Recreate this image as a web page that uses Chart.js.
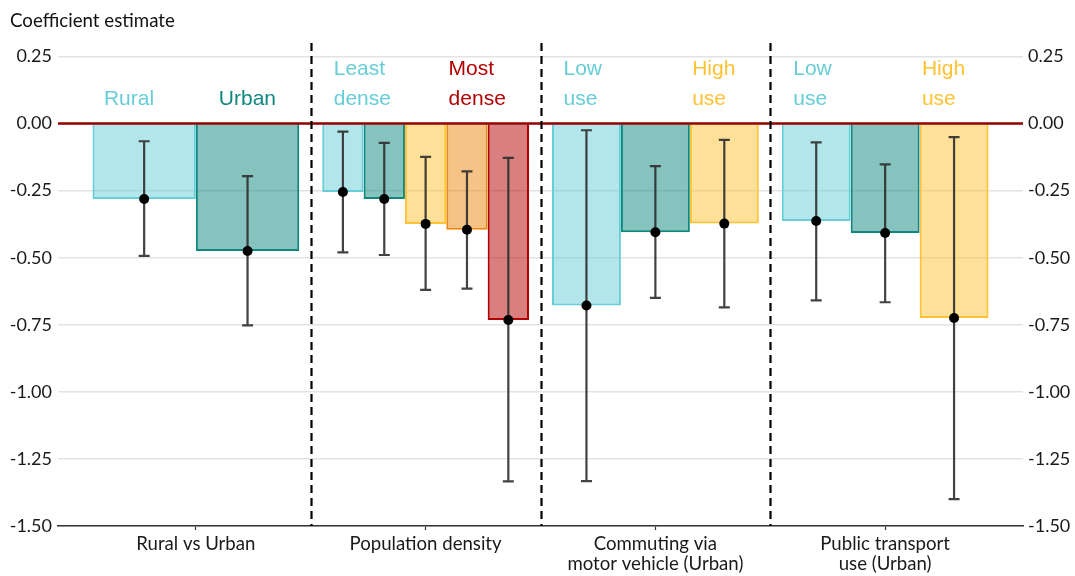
<!DOCTYPE html>
<html>
<head>
<meta charset="utf-8">
<title>Coefficient estimates</title>
<script src="https://cdn.jsdelivr.net/npm/chart.js@4/dist/chart.umd.min.js"></script>
<style>
  html, body { margin: 0; padding: 0; background: #ffffff; }
  #wrap { width: 1075px; height: 576px; }
</style>
</head>
<body>
<div id="wrap"><canvas id="chart" width="1075" height="576"></canvas></div>
<script>
// Comparison groups along the x axis
const groupLabels = ['Rural vs Urban', 'Population density', 'Commuting via\nmotor vehicle (Urban)', 'Public transport\nuse (Urban)'];

// Point estimates and interval bounds for each group (levels left to right)
const ruralUrbanEst  = [-0.281, -0.475];
const ruralUrbanLow  = [-0.493, -0.752];
const ruralUrbanHigh = [-0.066, -0.196];

const densityEst  = [-0.255, -0.281, -0.374, -0.396, -0.732];
const densityLow  = [-0.480, -0.490, -0.620, -0.615, -1.334];
const densityHigh = [-0.030, -0.072, -0.124, -0.178, -0.128];

const commuteEst  = [-0.678, -0.405, -0.373];
const commuteLow  = [-1.333, -0.650, -0.685];
const commuteHigh = [-0.025, -0.159, -0.061];

const transitEst  = [-0.363, -0.408, -0.725];
const transitLow  = [-0.659, -0.666, -1.400];
const transitHigh = [-0.070, -0.152, -0.051];

// Y axis tick values
const yTicks = [0.25, 0, -0.25, -0.5, -0.75, -1, -1.25, -1.5];

// In-panel level labels
const noteText = [['Rural'], ['Urban'], ['Least', 'dense'], ['Most', 'dense'], ['Low', 'use'], ['High', 'use'], ['Low', 'use'], ['High', 'use']];
const noteX = [0.6, 1.1, 1.6, 2.1, 2.6, 3.16, 3.6, 4.16];
const noteY = 0.068;

// Level colours: low → high
const levelColors = ['#67CDD7', '#0E877E', '#FEC233', '#EE8810', '#B30000'];
const noteColors = [levelColors[0], levelColors[1], levelColors[0], levelColors[4], levelColors[0], levelColors[2], levelColors[0], levelColors[2]];

const groupEst  = [ruralUrbanEst, densityEst, commuteEst, transitEst];
const groupLow  = [ruralUrbanLow, densityLow, commuteLow, transitLow];
const groupHigh = [ruralUrbanHigh, densityHigh, commuteHigh, transitHigh];

function withAlpha(hex, a) {
  const n = parseInt(hex.slice(1), 16);
  return `rgba(${(n >> 16) & 255},${(n >> 8) & 255},${n & 255},${a})`;
}

// One bar dataset per level; groups lacking that level are simply left out
const datasets = levelColors.map((col, k) => {
  const data = [];
  groupEst.forEach((arr, g) => {
    if (arr[k] !== undefined) {
      data.push({ x: g + 1, y: arr[k], lo: groupLow[g][k], hi: groupHigh[g][k] });
    }
  });
  return {
    type: 'bar',
    data,
    backgroundColor: withAlpha(col, 0.5),
    borderColor: col,
    borderWidth: 2,
    borderSkipped: 'start',
    skipNull: true,
    categoryPercentage: 0.9,
    barPercentage: 1.0
  };
});

const overlay = {
  id: 'overlay',
  afterDatasetsDraw(chart) {
    const ctx = chart.ctx;
    const xs = chart.scales.x, ys = chart.scales.y;
    const area = chart.chartArea;
    ctx.save();

    // zero reference line
    const y0 = ys.getPixelForValue(0);
    ctx.strokeStyle = '#930000';
    ctx.lineWidth = 2.5;
    ctx.beginPath();
    ctx.moveTo(area.left, y0);
    ctx.lineTo(area.right, y0);
    ctx.stroke();

    // interval whiskers and point estimates
    chart.data.datasets.forEach((ds, i) => {
      const meta = chart.getDatasetMeta(i);
      meta.data.forEach((bar, j) => {
        const d = ds.data[j];
        const x = bar.x;
        const yHi = ys.getPixelForValue(d.hi);
        const yLo = ys.getPixelForValue(d.lo);
        ctx.strokeStyle = 'rgba(45,45,45,0.9)';
        ctx.lineWidth = 2.2;
        ctx.beginPath();
        ctx.moveTo(x, yHi); ctx.lineTo(x, yLo);
        ctx.moveTo(x - 5.5, yHi); ctx.lineTo(x + 5.5, yHi);
        ctx.moveTo(x - 5.5, yLo); ctx.lineTo(x + 5.5, yLo);
        ctx.stroke();
        ctx.fillStyle = '#000000';
        ctx.beginPath();
        ctx.arc(x, ys.getPixelForValue(d.y), 5, 0, Math.PI * 2);
        ctx.fill();
      });
    });

    // level labels
    ctx.font = '21px "Liberation Sans", Arial, sans-serif';
    ctx.textAlign = 'left';
    ctx.textBaseline = 'alphabetic';
    const lineGap = 30;
    noteText.forEach((lines, i) => {
      const x = xs.getPixelForValue(noteX[i]);
      const yBase = ys.getPixelForValue(noteY);
      ctx.fillStyle = noteColors[i];
      lines.forEach((t, li) => {
        ctx.fillText(t, x, yBase - (lines.length - 1 - li) * lineGap);
      });
    });

    // dashed separators between groups
    ctx.strokeStyle = '#000000';
    ctx.lineWidth = 2.2;
    ctx.setLineDash([8, 5]);
    for (let g = 1; g < groupLabels.length; g++) {
      const x = Math.round(xs.getPixelForValue(g + 0.5)) + 0.5;
      ctx.beginPath();
      ctx.moveTo(x, area.top);
      ctx.lineTo(x, area.bottom);
      ctx.stroke();
    }
    ctx.restore();
  }
};

const tickFont = { family: 'Lato', size: 18 };
const setYTicks = s => { s.ticks = yTicks.map(v => ({ value: v })); };

new Chart(document.getElementById('chart'), {
  type: 'bar',
  data: { datasets },
  options: {
    responsive: false,
    animation: false,
    layout: { padding: { left: 10, right: 0, top: 0, bottom: 0 } },
    plugins: {
      legend: { display: false },
      tooltip: { enabled: false },
      title: {
        display: true,
        text: 'Coefficient estimate',
        align: 'start',
        color: '#111111',
        font: { family: 'Lato', size: 18.7, weight: 'normal' },
        padding: { top: 9.5, bottom: 11.1 }
      }
    },
    scales: {
      x: {
        type: 'linear',
        min: 0.4,
        max: 4.6,
        offset: false,
        afterBuildTicks: s => { s.ticks = groupLabels.map((_, i) => ({ value: i + 1 })); },
        afterFit: s => { s.height = 50; },
        ticks: {
          autoSkip: false,
          maxRotation: 0,
          padding: 4,
          color: '#1a1a1a',
          font: { family: 'Lato', size: 18.6, lineHeight: 1.07 },
          callback: v => groupLabels[v - 1].split('\n')
        },
        grid: { offset: false, drawOnChartArea: false, drawTicks: true, tickLength: 4, tickColor: '#333333', tickWidth: 1.2 },
        border: { display: true, color: '#333333', width: 1.5 }
      },
      y: {
        position: 'left',
        min: -1.5,
        max: 0.30,
        afterBuildTicks: setYTicks,
        afterFit: s => { s.width = 48; },
        ticks: { padding: 6, color: '#1a1a1a', font: tickFont, callback: v => v.toFixed(2) },
        grid: { color: '#e3e3e3', lineWidth: 1.5, drawTicks: false },
        border: { display: false }
      },
      y2: {
        position: 'right',
        min: -1.5,
        max: 0.30,
        afterBuildTicks: setYTicks,
        afterFit: s => { s.width = 52; },
        ticks: { padding: 5, color: '#1a1a1a', font: tickFont, callback: v => v.toFixed(2) },
        grid: { drawOnChartArea: false, drawTicks: false },
        border: { display: false }
      }
    }
  },
  plugins: [overlay]
});
</script>
</body>
</html>
